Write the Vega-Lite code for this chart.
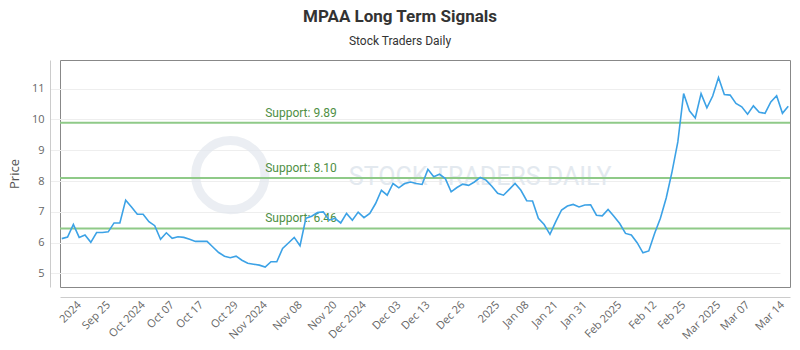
{
  "$schema": "https://vega.github.io/schema/vega-lite/v6.json",
  "width": 730,
  "height": 227,
  "autosize": "none",
  "padding": {"left": 60, "top": 60, "right": 10, "bottom": 63},
  "background": "#ffffff",
  "title": {
    "text": "MPAA Long Term Signals",
    "subtitle": "Stock Traders Daily",
    "anchor": "middle",
    "dx": -25,
    "offset": 12,
    "font": "Roboto",
    "fontSize": 17,
    "fontWeight": "bold",
    "color": "#333333",
    "subtitleFont": "Roboto",
    "subtitleFontSize": 12,
    "subtitleColor": "#333333",
    "subtitlePadding": 10
  },
  "datasets": {
    "prices": [
      {"date": "2024-09-13", "price": 6.13}, {"date": "2024-09-16", "price": 6.18}, {"date": "2024-09-17", "price": 6.59},
      {"date": "2024-09-18", "price": 6.17}, {"date": "2024-09-19", "price": 6.25}, {"date": "2024-09-20", "price": 6.01},
      {"date": "2024-09-23", "price": 6.33}, {"date": "2024-09-24", "price": 6.33}, {"date": "2024-09-25", "price": 6.35},
      {"date": "2024-09-26", "price": 6.64}, {"date": "2024-09-27", "price": 6.64}, {"date": "2024-09-30", "price": 7.38},
      {"date": "2024-10-01", "price": 7.16}, {"date": "2024-10-02", "price": 6.92}, {"date": "2024-10-03", "price": 6.92},
      {"date": "2024-10-04", "price": 6.68}, {"date": "2024-10-07", "price": 6.55}, {"date": "2024-10-08", "price": 6.11},
      {"date": "2024-10-09", "price": 6.32}, {"date": "2024-10-10", "price": 6.14}, {"date": "2024-10-11", "price": 6.19},
      {"date": "2024-10-14", "price": 6.17}, {"date": "2024-10-15", "price": 6.11}, {"date": "2024-10-16", "price": 6.04},
      {"date": "2024-10-17", "price": 6.04}, {"date": "2024-10-18", "price": 6.04}, {"date": "2024-10-21", "price": 5.86},
      {"date": "2024-10-22", "price": 5.68}, {"date": "2024-10-23", "price": 5.56}, {"date": "2024-10-24", "price": 5.51},
      {"date": "2024-10-25", "price": 5.56}, {"date": "2024-10-28", "price": 5.43}, {"date": "2024-10-29", "price": 5.33},
      {"date": "2024-10-30", "price": 5.30}, {"date": "2024-10-31", "price": 5.27}, {"date": "2024-11-01", "price": 5.21},
      {"date": "2024-11-04", "price": 5.38}, {"date": "2024-11-05", "price": 5.38}, {"date": "2024-11-06", "price": 5.81},
      {"date": "2024-11-07", "price": 5.99}, {"date": "2024-11-08", "price": 6.17}, {"date": "2024-11-11", "price": 5.90},
      {"date": "2024-11-12", "price": 6.79}, {"date": "2024-11-13", "price": 6.86}, {"date": "2024-11-14", "price": 6.98},
      {"date": "2024-11-15", "price": 7.00}, {"date": "2024-11-18", "price": 6.73}, {"date": "2024-11-19", "price": 6.79},
      {"date": "2024-11-20", "price": 6.64}, {"date": "2024-11-21", "price": 6.95}, {"date": "2024-11-22", "price": 6.73},
      {"date": "2024-11-25", "price": 6.99}, {"date": "2024-11-26", "price": 6.81}, {"date": "2024-11-27", "price": 6.95},
      {"date": "2024-11-29", "price": 7.27}, {"date": "2024-12-02", "price": 7.70}, {"date": "2024-12-03", "price": 7.54},
      {"date": "2024-12-04", "price": 7.92}, {"date": "2024-12-05", "price": 7.78}, {"date": "2024-12-06", "price": 7.92},
      {"date": "2024-12-09", "price": 7.97}, {"date": "2024-12-10", "price": 7.92}, {"date": "2024-12-11", "price": 7.89},
      {"date": "2024-12-12", "price": 8.38}, {"date": "2024-12-13", "price": 8.14}, {"date": "2024-12-16", "price": 8.22},
      {"date": "2024-12-17", "price": 8.08}, {"date": "2024-12-18", "price": 7.65}, {"date": "2024-12-19", "price": 7.79},
      {"date": "2024-12-20", "price": 7.90}, {"date": "2024-12-23", "price": 7.86}, {"date": "2024-12-24", "price": 7.97},
      {"date": "2024-12-26", "price": 8.12}, {"date": "2024-12-27", "price": 8.03}, {"date": "2024-12-30", "price": 7.83},
      {"date": "2024-12-31", "price": 7.60}, {"date": "2025-01-02", "price": 7.54}, {"date": "2025-01-03", "price": 7.73},
      {"date": "2025-01-06", "price": 7.92}, {"date": "2025-01-07", "price": 7.70}, {"date": "2025-01-08", "price": 7.36},
      {"date": "2025-01-10", "price": 7.35}, {"date": "2025-01-13", "price": 6.79}, {"date": "2025-01-14", "price": 6.59},
      {"date": "2025-01-15", "price": 6.27}, {"date": "2025-01-16", "price": 6.68}, {"date": "2025-01-17", "price": 7.06},
      {"date": "2025-01-21", "price": 7.19}, {"date": "2025-01-22", "price": 7.24}, {"date": "2025-01-23", "price": 7.16},
      {"date": "2025-01-24", "price": 7.22}, {"date": "2025-01-27", "price": 7.23}, {"date": "2025-01-28", "price": 6.89},
      {"date": "2025-01-29", "price": 6.87}, {"date": "2025-01-30", "price": 7.08}, {"date": "2025-01-31", "price": 6.86},
      {"date": "2025-02-03", "price": 6.62}, {"date": "2025-02-04", "price": 6.30}, {"date": "2025-02-05", "price": 6.25},
      {"date": "2025-02-06", "price": 6.00}, {"date": "2025-02-07", "price": 5.67}, {"date": "2025-02-10", "price": 5.73},
      {"date": "2025-02-11", "price": 6.30}, {"date": "2025-02-12", "price": 6.79}, {"date": "2025-02-13", "price": 7.45},
      {"date": "2025-02-14", "price": 8.30}, {"date": "2025-02-18", "price": 9.27}, {"date": "2025-02-19", "price": 10.84},
      {"date": "2025-02-20", "price": 10.28}, {"date": "2025-02-21", "price": 10.05}, {"date": "2025-02-24", "price": 10.84},
      {"date": "2025-02-25", "price": 10.38}, {"date": "2025-02-26", "price": 10.76}, {"date": "2025-02-27", "price": 11.36},
      {"date": "2025-02-28", "price": 10.81}, {"date": "2025-03-03", "price": 10.79}, {"date": "2025-03-04", "price": 10.52},
      {"date": "2025-03-05", "price": 10.41}, {"date": "2025-03-06", "price": 10.17}, {"date": "2025-03-07", "price": 10.44},
      {"date": "2025-03-10", "price": 10.23}, {"date": "2025-03-11", "price": 10.20}, {"date": "2025-03-12", "price": 10.57},
      {"date": "2025-03-13", "price": 10.77}, {"date": "2025-03-14", "price": 10.20}, {"date": "2025-03-17", "price": 10.43}
    ],
    "supports": [
      {"level": 9.89, "label": "Support: 9.89"},
      {"level": 8.10, "label": "Support: 8.10"},
      {"level": 6.46, "label": "Support: 6.46"}
    ],
    "watermark": [{"text": "STOCK TRADERS DAILY"}]
  },
  "layer": [
    {
      "data": {"name": "prices"},
      "mark": {"type": "line", "color": "#3ca2e6", "strokeWidth": 1.6, "opacity": 0},
      "encoding": {
        "x": {
          "field": "date",
          "type": "ordinal",
          "scale": {"type": "point", "padding": 0.3},
          "axis": {
            "title": null,
            "values": ["2024-09-18", "2024-09-25", "2024-10-03", "2024-10-10", "2024-10-17", "2024-10-25", "2024-11-01", "2024-11-11", "2024-11-19", "2024-11-26", "2024-12-05", "2024-12-12", "2024-12-20", "2024-12-31", "2025-01-08", "2025-01-16", "2025-01-24", "2025-02-03", "2025-02-11", "2025-02-19", "2025-02-27", "2025-03-06", "2025-03-14"],
            "labelExpr": "['2024','Sep 25','Oct 2024','Oct 07','Oct 17','Oct 29','Nov 2024','Nov 08','Nov 20','Dec 2024','Dec 03','Dec 13','Dec 26','2025','Jan 08','Jan 21','Jan 31','Feb 2025','Feb 12','Feb 25','Mar 2025','Mar 07','Mar 14'][indexof(['2024-09-18','2024-09-25','2024-10-03','2024-10-10','2024-10-17','2024-10-25','2024-11-01','2024-11-11','2024-11-19','2024-11-26','2024-12-05','2024-12-12','2024-12-20','2024-12-31','2025-01-08','2025-01-16','2025-01-24','2025-02-03','2025-02-11','2025-02-19','2025-02-27','2025-03-06','2025-03-14'], datum.value)]",
            "labelAngle": -45,
            "labelAlign": "right",
            "labelBaseline": "middle",
            "labelPadding": 6
          }
        },
        "y": {
          "field": "price",
          "type": "quantitative",
          "scale": {"domain": [4.56, 11.93], "nice": false, "zero": false},
          "axis": {
            "title": "Price",
            "values": [5, 6, 7, 8, 9, 10, 11]
          }
        }
      }
    },
    {
      "data": {"name": "watermark"},
      "mark": {"type": "point", "shape": "circle", "filled": false, "stroke": "#e3e8ee", "strokeWidth": 9, "size": 4800},
      "encoding": {
        "x": {"datum": "2024-10-24", "type": "ordinal"},
        "y": {"datum": 8.19, "type": "quantitative"}
      }
    },
    {
      "data": {"name": "watermark"},
      "mark": {"type": "text", "font": "Roboto", "fontSize": 25, "color": "#e3e9ef", "align": "center", "baseline": "middle"},
      "encoding": {
        "x": {"datum": "2024-12-26", "type": "ordinal"},
        "y": {"datum": 8.13, "type": "quantitative"},
        "text": {"field": "text"}
      }
    },
    {
      "data": {"name": "supports"},
      "mark": {"type": "rule", "color": "#8fca88", "strokeWidth": 2},
      "encoding": {
        "y": {"field": "level", "type": "quantitative"}
      }
    },
    {
      "data": {"name": "supports"},
      "mark": {"type": "text", "font": "Roboto", "fontSize": 12, "color": "#4f8f45", "align": "left", "baseline": "bottom", "dy": -3},
      "encoding": {
        "x": {"datum": "2024-11-01", "type": "ordinal"},
        "y": {"field": "level", "type": "quantitative"},
        "text": {"field": "label"}
      }
    },
    {
      "data": {"name": "prices"},
      "mark": {"type": "line", "color": "#3ca2e6", "strokeWidth": 1.6},
      "encoding": {
        "x": {"field": "date", "type": "ordinal"},
        "y": {"field": "price", "type": "quantitative"}
      }
    }
  ],
  "config": {
    "view": {"stroke": "#888888", "strokeWidth": 1},
    "axis": {
      "labelFont": "Open Sans",
      "labelFontSize": 11,
      "labelColor": "#666666",
      "labelOverlap": false,
      "ticks": false,
      "offset": 10,
      "domainColor": "#cccccc",
      "titleFont": "Open Sans",
      "titleFontSize": 13,
      "titleFontWeight": "normal",
      "titleColor": "#555555"
    },
    "axisX": {"grid": false, "labelPadding": 6},
    "axisY": {"grid": true, "gridColor": "#eeeeee", "labelPadding": 6, "titlePadding": 10, "tickCount": 7}
  }
}
